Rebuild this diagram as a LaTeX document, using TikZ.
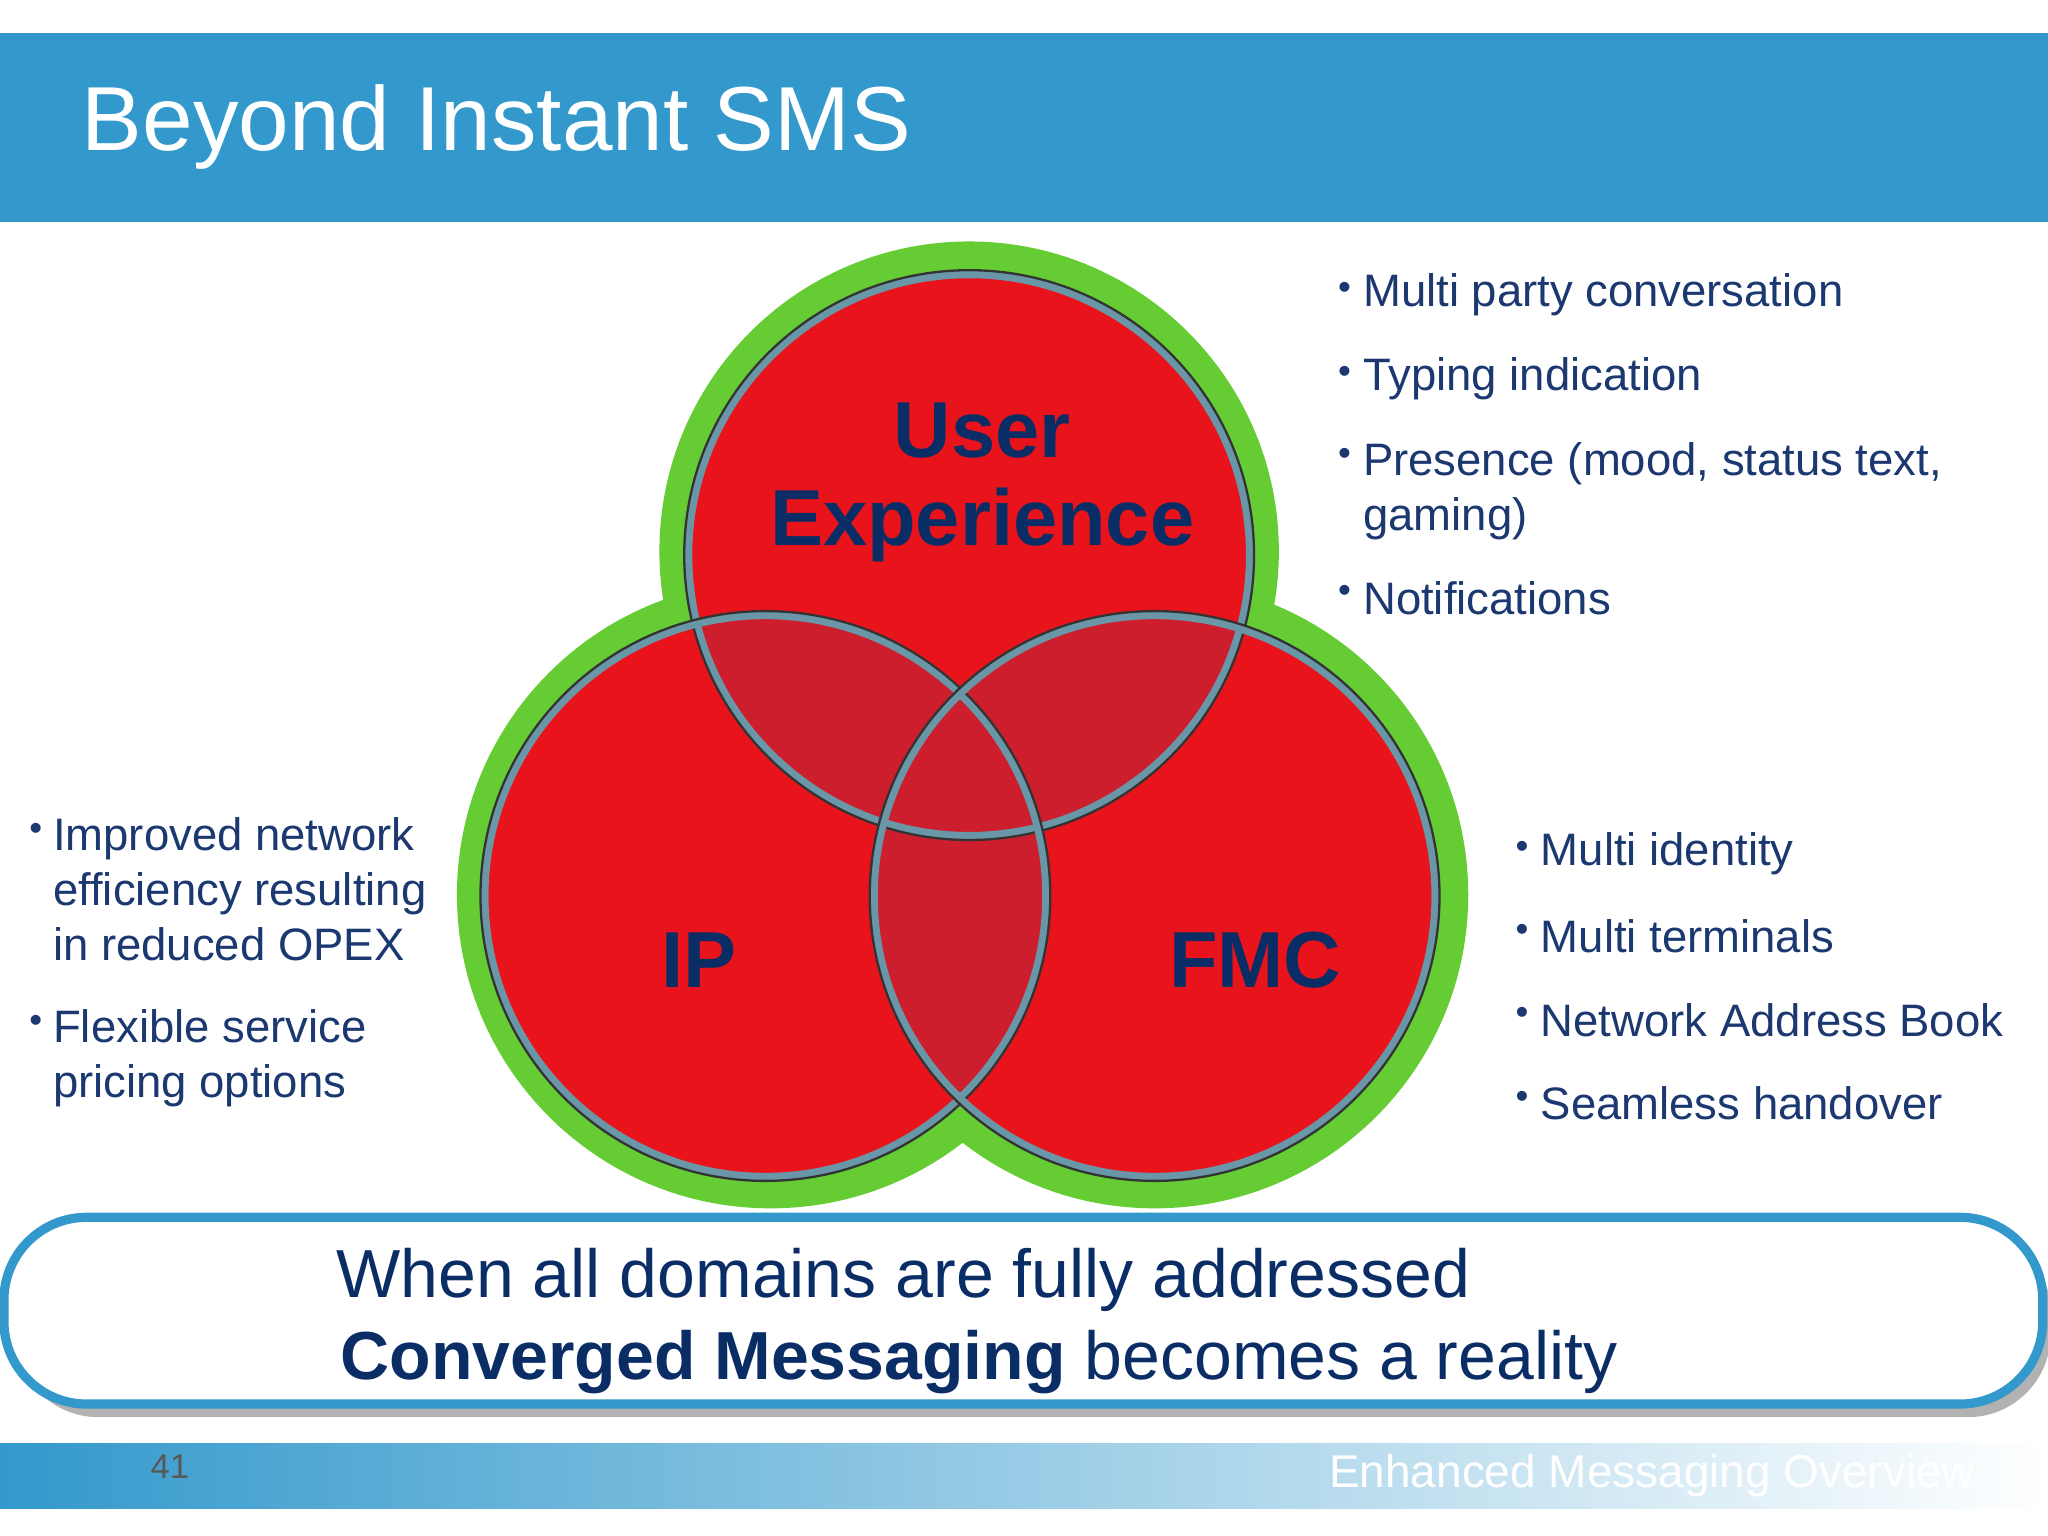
\documentclass[tikz,border=0pt]{standalone}
\usepackage{fontspec}
\setmainfont{Liberation Sans}
\definecolor{band}{HTML}{3399CC}
\definecolor{navy}{HTML}{0B2D66}
\definecolor{txt}{HTML}{1C3870}
\definecolor{grn}{HTML}{66CC33}
\definecolor{rd}{HTML}{E8131B}
\definecolor{rdk}{HTML}{CC1E2C}
\definecolor{rim}{HTML}{6A97A8}
\tikzset{bul/.style={anchor=west,text=txt,font=\fontsize{9.9}{12}\selectfont,align=left,inner sep=0pt},
 dot/.style={anchor=east,text=txt,font=\fontsize{8}{9}\selectfont,inner sep=0pt},
 big/.style={text=navy,font=\bfseries\fontsize{17.3}{20}\selectfont}}
\begin{document}
\begin{tikzpicture}[x=0.01cm,y=-0.01cm]
\useasboundingbox (0,0) rectangle (1568,1176);
\fill[white] (0,0) rectangle (1568,1176);
\fill[band] (0,25) rectangle (1568,170);
\node[anchor=west,text=white,font=\fontsize{19.8}{24}\selectfont,inner sep=0pt] (title) at (62,97) {Beyond Instant SMS};
% green
\fill[grn] (742,422) circle[radius=2.37cm];
\fill[grn] (590,685) circle[radius=2.40cm];
\fill[grn] (884,685) circle[radius=2.40cm];
% red
\coordinate (ct) at (742,425);
\coordinate (cl) at (586,686);
\coordinate (cr) at (884,686);
\fill[rd] (ct) circle[radius=2.18cm];
\fill[rd] (cl) circle[radius=2.18cm];
\fill[rd] (cr) circle[radius=2.18cm];
\begin{scope}\clip (ct) circle[radius=2.18cm]; \fill[rdk] (cl) circle[radius=2.18cm]; \fill[rdk] (cr) circle[radius=2.18cm];\end{scope}
\begin{scope}\clip (cl) circle[radius=2.18cm]; \fill[rdk] (cr) circle[radius=2.18cm];\end{scope}
\foreach \c in {ct,cl,cr}{
 \draw[rim,line width=1.8pt] (\c) circle[radius=2.15cm];
 \draw[black!80,line width=0.5pt] (\c) circle[radius=2.18cm];
}
\node[big] (ux1) at (752,330) {User};
\node[big] (ux2) at (752,402) {Experience};
\node[big] (ip) at (535,735) {IP};
\node[big] (fmc) at (961,735) {FMC};
% right top bullets
\foreach \y/\t in {226/Multi party conversation,290/Typing indication,458/Notifications}{
 \node[dot] at (1035,\y-3) {•}; \node[bul] at (1043,\y) {\t};}
\node[dot] at (1035,350) {•};
\node[bul,anchor=north west] (pres) at (1043,338) {Presence (mood, status text,\\gaming)};
% left
\node[dot] at (33,637) {•};
\node[bul,anchor=north west] (l1) at (40,625) {Improved network\\efficiency resulting\\in reduced OPEX};
\node[dot] at (33,784) {•};
\node[bul,anchor=north west] (l2) at (40,772) {Flexible service\\pricing options};
% right bottom
\foreach \y/\t in {654/Multi identity,717/Multi terminals,781/Network Address Book,845/Seamless handover}{
 \node[dot] at (1171,\y-3) {•}; \node[bul] at (1179,\y) {\t};}
% bottom box
\fill[gray!60,rounded corners=18] (12,941) rectangle (1570,1085);
\draw[band,line width=2pt,fill=white,rounded corners=18] (3,932) rectangle (1564,1075);
\node[anchor=west,text=navy,font=\fontsize{14.8}{17}\selectfont,inner sep=0pt] (b1) at (257,980) {When all domains are fully addressed};
\node[anchor=west,text=navy,font=\fontsize{14.8}{17}\selectfont,inner sep=0pt] (b2) at (260,1043) {\textbf{Converged Messaging} becomes a reality};
% footer
\shade[left color=band,right color=white] (0,1105) rectangle (1568,1155);
\node[text=gray!70!black,font=\fontsize{7.5}{9}\selectfont] (pg) at (130,1123) {41};
\node[anchor=west,text=white,font=\fontsize{10}{12}\selectfont,inner sep=0pt] (ft) at (1017,1130) {Enhanced Messaging Overview};
\end{tikzpicture}
\end{document}
